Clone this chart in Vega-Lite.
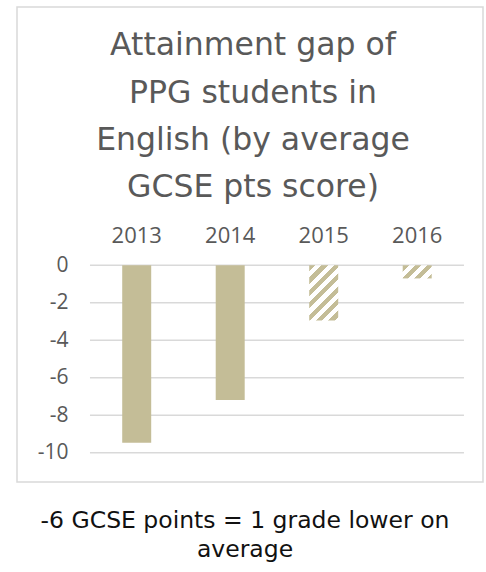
{
  "$schema": "https://vega.github.io/schema/vega-lite/v6.json",
  "background": "white",
  "padding": {"left": 16, "top": 6, "right": 0, "bottom": 20},
  "title": {
    "text": ["-6 GCSE points = 1 grade lower on", "average"],
    "orient": "bottom",
    "anchor": "middle",
    "fontSize": 23.5,
    "lineHeight": 29,
    "color": "#111111",
    "font": "DejaVu Sans",
    "fontWeight": "normal",
    "offset": 26,
    "dx": -5
  },
  "vconcat": [
    {
      "width": 466,
      "height": 475,
      "title": {
        "text": ["Attainment gap of", "PPG students in", "English (by average", "GCSE pts score)"],
        "fontSize": 31.5,
        "lineHeight": 47.4,
        "color": "#595959",
        "font": "DejaVu Sans",
        "fontWeight": "normal",
        "offset": -197,
        "anchor": "middle",
        "frame": "group",
        "dx": 3
      },
      "layer": [
        {
          "data": {"values": [{"v": 0}, {"v": -2}, {"v": -4}, {"v": -6}, {"v": -8}, {"v": -10}]},
          "mark": {"type": "rule", "color": "#d9d9d9", "strokeWidth": 1.5},
          "encoding": {
            "x": {"datum": "2013", "type": "nominal", "bandPosition": 0},
            "x2": {"datum": "2016", "bandPosition": 1},
            "y": {"field": "v", "type": "quantitative"}
          }
        },
        {
          "data": {"values": [
            {"year": "2013", "gap": -9.47},
            {"year": "2014", "gap": -7.19},
            {"year": "2015", "gap": -2.95},
            {"year": "2016", "gap": -0.7}
          ]},
          "encoding": {
            "x": {
              "field": "year",
              "type": "nominal",
              "scale": {"type": "band", "paddingInner": 0, "paddingOuter": 0.492, "align": 0.793},
              "axis": {
                "orient": "top",
                "title": null,
                "offset": -228,
                "bandPosition": 0.5,
                "labelAlign": "center",
                "ticks": false,
                "domain": false,
                "grid": false,
                "labelPadding": 0,
                "labelAngle": 0,
                "labelFontSize": 22,
                "labelColor": "#595959",
                "labelFont": "Open Sans"
              }
            },
            "y": {
              "field": "gap",
              "type": "quantitative",
              "scale": {"domain": [-11.56, 13.78], "nice": false, "zero": false},
              "axis": {
                "title": null,
                "offset": -73,
                "values": [0, -2, -4, -6, -8, -10],
                "labelExpr": "'' + datum.value",
                "ticks": false,
                "domain": false,
                "grid": false,
                "labelPadding": 22,
                "labelFontSize": 21,
                "labelColor": "#595959",
                "labelFont": "Open Sans"
              }
            },
            "y2": {"datum": 0}
          },
          "layer": [
            {
              "transform": [{"filter": "datum.year == '2013' || datum.year == '2014'"}],
              "mark": {"type": "bar", "width": {"band": 0.31}, "color": "#C4BD97"}
            },
            {
              "transform": [{"filter": "datum.year == '2015'"}],
              "mark": {
                "type": "bar",
                "width": {"band": 0.31},
                "color": {
                  "gradient": "linear",
                  "x1": 0, "y1": 0, "x2": 0.627, "y2": 1.196,
                  "stops": [
                    {"offset": 0, "color": "#C4BD97"},
                    {"offset": 0.0735, "color": "#C4BD97"},
                    {"offset": 0.0735, "color": "#ffffff"},
                    {"offset": 0.147, "color": "#ffffff"},
                    {"offset": 0.147, "color": "#C4BD97"},
                    {"offset": 0.2205, "color": "#C4BD97"},
                    {"offset": 0.2205, "color": "#ffffff"},
                    {"offset": 0.294, "color": "#ffffff"},
                    {"offset": 0.294, "color": "#C4BD97"},
                    {"offset": 0.3675, "color": "#C4BD97"},
                    {"offset": 0.3675, "color": "#ffffff"},
                    {"offset": 0.441, "color": "#ffffff"},
                    {"offset": 0.441, "color": "#C4BD97"},
                    {"offset": 0.5145, "color": "#C4BD97"},
                    {"offset": 0.5145, "color": "#ffffff"},
                    {"offset": 0.588, "color": "#ffffff"},
                    {"offset": 0.588, "color": "#C4BD97"},
                    {"offset": 0.6615, "color": "#C4BD97"},
                    {"offset": 0.6615, "color": "#ffffff"},
                    {"offset": 0.735, "color": "#ffffff"},
                    {"offset": 0.735, "color": "#C4BD97"},
                    {"offset": 0.8085, "color": "#C4BD97"},
                    {"offset": 0.8085, "color": "#ffffff"},
                    {"offset": 0.882, "color": "#ffffff"},
                    {"offset": 0.882, "color": "#C4BD97"},
                    {"offset": 0.9555, "color": "#C4BD97"},
                    {"offset": 0.9555, "color": "#ffffff"},
                    {"offset": 1, "color": "#ffffff"}
                  ]
                }
              }
            },
            {
              "transform": [{"filter": "datum.year == '2016'"}],
              "mark": {
                "type": "bar",
                "width": {"band": 0.31},
                "color": {
                  "gradient": "linear",
                  "x1": 0, "y1": 0, "x2": 1.206, "y2": 0.545,
                  "stops": [
                    {"offset": 0, "color": "#C4BD97"},
                    {"offset": 0.147, "color": "#C4BD97"},
                    {"offset": 0.147, "color": "#ffffff"},
                    {"offset": 0.294, "color": "#ffffff"},
                    {"offset": 0.294, "color": "#C4BD97"},
                    {"offset": 0.441, "color": "#C4BD97"},
                    {"offset": 0.441, "color": "#ffffff"},
                    {"offset": 0.588, "color": "#ffffff"},
                    {"offset": 0.588, "color": "#C4BD97"},
                    {"offset": 0.735, "color": "#C4BD97"},
                    {"offset": 0.735, "color": "#ffffff"},
                    {"offset": 0.882, "color": "#ffffff"},
                    {"offset": 0.882, "color": "#C4BD97"},
                    {"offset": 1, "color": "#C4BD97"}
                  ]
                }
              }
            }
          ]
        }
      ]
    }
  ],
  "config": {
    "view": {"stroke": "#d9d9d9", "strokeWidth": 1.5},
    "font": "Open Sans"
  }
}
